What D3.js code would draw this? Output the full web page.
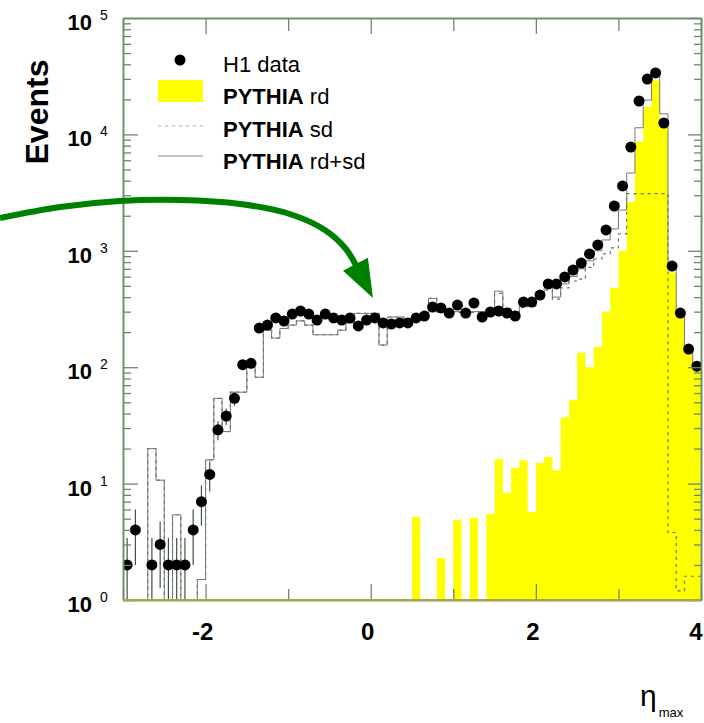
<!DOCTYPE html>
<html>
<head>
<meta charset="utf-8">
<script src="https://cdn.jsdelivr.net/npm/d3@7"></script>
<style>
  body { margin: 0; background: #fff; }
  svg { display: block; font-family: "Liberation Sans", Arial, Helvetica, sans-serif; }
</style>
</head>
<body>
<svg width="704" height="723"></svg>
<script>
// eta_max histogram, 70 bins of 0.1 from -3 to 4
var binCentres = d3.range(70).map(i => +(-2.95 + 0.1 * i).toFixed(2));

// H1 data points (null = empty bin)
var h1Data = [2, 4, null, 2, 3, 2, 2, 2, 4, 7,
              12, 29, 38, 54, 105, 108, 217, 230, 265, 249,
              286, 304, 286, 254, 286, 265, 254, 265, 226, 254,
              265, 240, 235, 240, 240, 265, 275, 329, 323, 292,
              342, 292, 356, 270, 298, 304, 292, 275, 363, 363,
              417, 519, 519, 596, 684, 785, 939, 1122, 1510, 2426,
              3605, 7790, 19360, 29900, 33700, 12530, 740, 292, 143, 102];

// PYTHIA rd (yellow fill)
var pythiaRd = [0, 0, 0, 0, 0, 0, 0, 0, 0, 0,
                0, 0, 0, 0, 0, 0, 0, 0, 0, 0,
                0, 0, 0, 0, 0, 0, 0, 0, 0, 0,
                0, 0, 0, 0, 0, 5.2, 0, 0, 2.3, 0,
                4.9, 0, 5.1, 0, 5.5, 16.2, 8.3, 13.6, 15.9, 5.7,
                15, 16.9, 13, 37, 52, 133, 100, 149, 298, 480,
                1000, 2630, 8600, 17200, 29000, 13500, 650, 290, 145, 98];

// PYTHIA sd (dotted)
var pythiaSd = [0, 0, 0, 20, 10.7, 0, 5.4, 0, 0, 1.5,
                16, 54, 28, 61, 61, 103, 82, 208, 178, 215,
                230, 250, 230, 190, 190, 190, 208, 240, 290, 290,
                290, 155, 270, 270, 260, 270, 270, 390, 298, 280,
                295, 290, 295, 300, 295, 430, 310, 285, 325, 335,
                385, 460, 385, 480, 550, 570, 720, 850, 940, 1060,
                1400, 3100, 3100, 3100, 3100, 3100, 3.8, 1.2, 1.6, 1.6];

// PYTHIA rd+sd (solid)
var pythiaRdSd = [0, 0, 0, 20, 10.7, 0, 5.4, 0, 0, 1.5,
                  16, 54, 28, 61, 61, 103, 82, 208, 178, 215,
                  230, 250, 230, 190, 190, 190, 208, 240, 290, 290,
                  290, 155, 270, 270, 260, 275, 270, 390, 300, 280,
                  300, 290, 300, 300, 300, 450, 320, 300, 340, 340,
                  400, 480, 400, 520, 600, 700, 820, 1000, 1240, 1540,
                  2240, 4660, 11400, 19700, 32000, 15000, 700, 300, 150, 100];

var xTickLabels = ['-2', '0', '2', '4'];
var yDecades = [1, 10, 100, 1000, 10000, 100000];
var yExponents = ['0', '1', '2', '3', '4', '5'];

// annotation arrow, in (eta, events) units
var arrowPath = [[-4.49, 1914], [-3.76, 2378], [-3.04, 2677], [-2.31, 2730], [-1.58, 2523],
                 [-0.98, 2070], [-0.555, 1509], [-0.31, 1057], [-0.18, 755]];
var arrowTip = [0.027, 393];

var svg = d3.select('svg');
var pLeft = 123, pRight = 701, pTop = 18, pBottom = 600;
var frameColor = '#6b8a6b';

var x = d3.scaleLinear().domain([-3, 4]).range([pLeft, pRight]);
var y = d3.scaleLog().domain([1, 1e5]).range([pBottom, pTop]);
var yv = v => (v > 1 ? y(v) : y(1));

svg.append('clipPath').attr('id', 'plot')
  .append('rect').attr('x', pLeft).attr('y', pTop)
  .attr('width', pRight - pLeft).attr('height', pBottom - pTop);

var plot = svg.append('g').attr('clip-path', 'url(#plot)');

function steps(vals) {
  var pts = vals.map((v, i) => [binCentres[i] - 0.05, v]);
  pts.push([4, vals[vals.length - 1]]);
  return pts;
}

// yellow rd histogram
plot.append('path')
  .attr('d', d3.area()
    .x(d => x(d[0])).y0(y(1)).y1(d => yv(d[1]))
    .curve(d3.curveStepAfter)(steps(pythiaRd)))
  .attr('fill', '#ffff00');

// sd dotted
plot.append('path')
  .attr('d', d3.line().x(d => x(d[0])).y(d => yv(d[1])).curve(d3.curveStepAfter)(steps(pythiaSd)))
  .attr('fill', 'none')
  .attr('stroke', '#557a55')
  .attr('stroke-width', 1.2)
  .attr('stroke-dasharray', '3,4');

// rd+sd solid
plot.append('path')
  .attr('d', d3.line().x(d => x(d[0])).y(d => yv(d[1])).curve(d3.curveStepAfter)(steps(pythiaRdSd)))
  .attr('fill', 'none')
  .attr('stroke', '#777')
  .attr('stroke-width', 1);

// data: error bars then dots
var pts = h1Data.map((v, i) => ({eta: binCentres[i], n: v})).filter(d => d.n !== null);

plot.selectAll('line.err')
  .data(pts)
  .enter()
  .append('line')
    .attr('class', 'err')
    .attr('x1', d => x(d.eta)).attr('x2', d => x(d.eta))
    .attr('y1', d => yv(d.n + Math.sqrt(d.n)))
    .attr('y2', d => yv(d.n - Math.sqrt(d.n)))
    .attr('stroke', '#3f553f')
    .attr('stroke-width', 1.2);

plot.selectAll('circle')
  .data(pts)
  .enter()
  .append('circle')
    .attr('cx', d => x(d.eta))
    .attr('cy', d => y(d.n))
    .attr('r', 5.5)
    .attr('fill', '#000');

// axes / frame
var minorY = y.ticks().filter(v => yDecades.indexOf(v) < 0);

function styleAxis(g) {
  g.attr('color', frameColor);
  g.selectAll('line').attr('stroke-width', 1.3);
  g.select('.domain').attr('stroke-width', 1.5);
}

svg.append('g').attr('transform', 'translate(' + pLeft + ',0)')
  .call(d3.axisRight(y).tickValues(yDecades).tickSize(15).tickSizeOuter(0).tickFormat(''))
  .call(styleAxis);
svg.append('g').attr('transform', 'translate(' + pLeft + ',0)')
  .call(d3.axisRight(y).tickValues(minorY).tickSize(8).tickSizeOuter(0).tickFormat(''))
  .call(styleAxis);
svg.append('g').attr('transform', 'translate(' + pRight + ',0)')
  .call(d3.axisLeft(y).tickValues(yDecades).tickSize(13).tickSizeOuter(0).tickFormat(''))
  .call(styleAxis);
svg.append('g').attr('transform', 'translate(' + pRight + ',0)')
  .call(d3.axisLeft(y).tickValues(minorY).tickSize(7).tickSizeOuter(0).tickFormat(''))
  .call(styleAxis);

var majorX = [-2, 0, 2, 4], minorX = [-3, -1, 1, 3];
svg.append('g').attr('transform', 'translate(0,' + pBottom + ')')
  .call(d3.axisTop(x).tickValues(majorX).tickSize(16).tickSizeOuter(0).tickFormat(''))
  .call(styleAxis);
svg.append('g').attr('transform', 'translate(0,' + pBottom + ')')
  .call(d3.axisTop(x).tickValues(minorX).tickSize(11).tickSizeOuter(0).tickFormat(''))
  .call(styleAxis);
svg.append('g').attr('transform', 'translate(0,' + pTop + ')')
  .call(d3.axisBottom(x).tickValues(majorX).tickSize(16).tickSizeOuter(0).tickFormat(''))
  .call(styleAxis);
svg.append('g').attr('transform', 'translate(0,' + pTop + ')')
  .call(d3.axisBottom(x).tickValues(minorX).tickSize(13).tickSizeOuter(0).tickFormat(''))
  .call(styleAxis);

// yellowish base line along bottom
svg.append('line')
  .attr('x1', pLeft).attr('x2', pRight).attr('y1', pBottom).attr('y2', pBottom)
  .attr('stroke', '#a8a844').attr('stroke-width', 2);

// y tick labels 10^n
yDecades.forEach((v, i) => {
  svg.append('text')
    .text('10')
    .attr('x', 92).attr('y', y(v) + 12)
    .attr('text-anchor', 'end')
    .attr('font-size', 22).attr('font-weight', 'bold');
  svg.append('text')
    .text(yExponents[i])
    .attr('x', 100).attr('y', y(v) + 2)
    .attr('font-size', 14);
});

// x tick labels
majorX.forEach((v, i) => {
  svg.append('text')
    .text(xTickLabels[i])
    .attr('x', x(v) - (v === 4 ? 5 : 3)).attr('y', 640)
    .attr('text-anchor', 'middle')
    .attr('font-size', 24).attr('font-weight', 'bold');
});

// axis titles
svg.append('text')
  .text('Events')
  .attr('transform', 'translate(48,112) rotate(-90)')
  .attr('text-anchor', 'middle')
  .attr('font-size', 32).attr('font-weight', 'bold');

var xt = svg.append('text').attr('x', 640).attr('y', 706);
xt.append('tspan').text('η').attr('font-size', 30);
xt.append('tspan').text('max').attr('font-size', 13).attr('dy', 11).attr('dx', 2);

// legend
var lg = svg.append('g');
lg.append('circle').attr('cx', 180).attr('cy', 60).attr('r', 5.5).attr('fill', '#000');
lg.append('rect').attr('x', 158).attr('y', 80).attr('width', 45).attr('height', 22).attr('fill', '#ffff00');
lg.append('line').attr('x1', 158).attr('x2', 203).attr('y1', 126).attr('y2', 126)
  .attr('stroke', '#8fc08f').attr('stroke-width', 1.2).attr('stroke-dasharray', '3,4');
lg.append('line').attr('x1', 158).attr('x2', 203).attr('y1', 156).attr('y2', 156)
  .attr('stroke', '#888').attr('stroke-width', 1.2);

var legendRows = [['H1 data', ''], ['PYTHIA', ' rd'], ['PYTHIA', ' sd'], ['PYTHIA', ' rd+sd']];
var legendY = [72, 104, 137, 169];
legendRows.forEach((r, i) => {
  var t = lg.append('text').attr('x', 223).attr('y', legendY[i]).attr('font-size', 22);
  if (i === 0) {
    t.text(r[0]);
  } else {
    t.append('tspan').text(r[0]).attr('font-weight', 'bold');
    t.append('tspan').text(r[1]);
  }
});

// green annotation arrow
var shaft = d3.line().x(d => x(d[0])).y(d => y(d[1])).curve(d3.curveCatmullRom);
svg.append('path')
  .attr('d', shaft(arrowPath))
  .attr('fill', 'none')
  .attr('stroke', '#008000')
  .attr('stroke-width', 6);

var tx = x(arrowTip[0]), ty = y(arrowTip[1]);
var end = arrowPath[arrowPath.length - 1];
var ex = x(end[0]), ey = y(end[1]);
var dx = tx - ex, dy = ty - ey, len = Math.sqrt(dx * dx + dy * dy);
dx /= len; dy /= len;
var headLen = 38, headW = 28;
var bx = tx - dx * headLen, by = ty - dy * headLen;
svg.append('path')
  .attr('d', 'M' + tx + ',' + ty +
             'L' + (bx - dy * headW / 2) + ',' + (by + dx * headW / 2) +
             'L' + (bx + dy * headW / 2) + ',' + (by - dx * headW / 2) + 'Z')
  .attr('fill', '#008000');
</script>
</body>
</html>
